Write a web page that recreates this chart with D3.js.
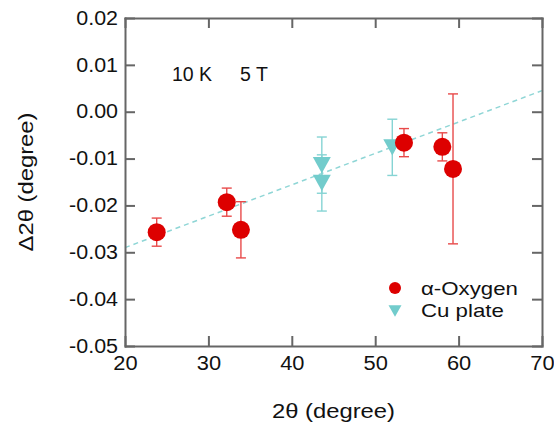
<!DOCTYPE html>
<html><head><meta charset="utf-8">
<script src="https://cdn.jsdelivr.net/npm/d3@7"></script>
<style>body{margin:0;background:#fff;} svg{display:block;font-family:"Liberation Sans",Arial,sans-serif;}</style>
</head><body>
<svg id="c" width="554" height="426"></svg>
<script>
const oxyX   = [23.8, 32.2, 33.9, 53.45, 58.05, 59.33];
const oxyY   = [-0.0257, -0.0193, -0.0252, -0.0066, -0.0075, -0.0122];
const oxyErr = [0.003, 0.003, 0.006, 0.003, 0.003, 0.016];
const cuX    = [43.6, 43.6, 52.05];
const cuY    = [-0.0114, -0.0152, -0.0076];
const cuErr  = [0.006, 0.006, 0.006];
const fitX   = [20, 70];
const fitY   = [-0.0290, 0.0045];
const xTicks = [20, 30, 40, 50, 60, 70];
const yTicks = [0.02, 0.01, 0.00, -0.01, -0.02, -0.03, -0.04, -0.05];
const legendLabels = ["α-Oxygen", "Cu plate"];

const svg = d3.select("#c");
const L = 125, R = 542, T = 18, B = 346;
const x = d3.scaleLinear().domain([20, 70]).range([L, R]);
const y = d3.scaleLinear().domain([-0.05, 0.02]).range([B, T]);
const red = "#dd0000", teal = "#72cccc", axisCol = "#666";

function stretch(sel, f) {
  sel.each(function () {
    const w = this.getComputedTextLength();
    d3.select(this).attr("textLength", w * f).attr("lengthAdjust", "spacingAndGlyphs");
  });
}

// fit line
svg.append("line")
  .attr("x1", x(fitX[0])).attr("y1", y(fitY[0]))
  .attr("x2", x(fitX[1])).attr("y2", y(fitY[1]))
  .attr("stroke", "#8fd6d6").attr("stroke-width", 1.5).attr("stroke-dasharray", "5,4");

function errBars(xs, ys, es, col) {
  const g = svg.append("g").attr("stroke", col).attr("stroke-width", 1.4).attr("fill", "none");
  xs.forEach((xv, i) => {
    const cx = x(xv), y1 = y(ys[i] + es[i]), y2 = y(ys[i] - es[i]);
    g.append("line").attr("x1", cx).attr("x2", cx).attr("y1", y1).attr("y2", y2);
    g.append("line").attr("x1", cx - 5).attr("x2", cx + 5).attr("y1", y1).attr("y2", y1);
    g.append("line").attr("x1", cx - 5).attr("x2", cx + 5).attr("y1", y2).attr("y2", y2);
  });
}
errBars(oxyX, oxyY, oxyErr, "#e84a4a");
errBars(cuX, cuY, cuErr, "#86d4d4");

const tri = (cx, cy, w) => {
  const h = w * 0.9;
  return `M${cx - w/2},${cy - h/2}L${cx + w/2},${cy - h/2}L${cx},${cy + h/2}Z`;
};
svg.append("g").selectAll("path").data(cuX).join("path")
  .attr("d", (d, i) => tri(x(d), y(cuY[i]), 18)).attr("fill", teal);
svg.append("g").selectAll("circle").data(oxyX).join("circle")
  .attr("cx", d => x(d)).attr("cy", (d, i) => y(oxyY[i])).attr("r", 9).attr("fill", red);

// axes
const fmt = d => d3.format(".2f")(d).replace("−", "-");
const ax = (g) => { g.select(".domain").attr("stroke", axisCol).attr("stroke-width", 2);
  g.selectAll(".tick line").attr("stroke", axisCol).attr("stroke-width", 2);
  g.selectAll("text").attr("fill", "#111").style("font-size", "19.5px"); };
svg.append("g").attr("transform", `translate(0,${B})`)
  .call(d3.axisBottom(x).tickValues(xTicks).tickSize(-10).tickPadding(6).tickSizeOuter(0))
  .call(ax).call(g => g.selectAll("text").attr("dy", "0.9em").call(stretch, 1.12));
svg.append("g").attr("transform", `translate(0,${T})`)
  .call(d3.axisTop(x).tickValues(xTicks).tickSize(-10).tickFormat("").tickSizeOuter(0)).call(ax);
svg.append("g").attr("transform", `translate(${L},0)`)
  .call(d3.axisLeft(y).tickValues(yTicks).tickSize(-10).tickPadding(7).tickFormat(fmt).tickSizeOuter(0))
  .call(ax).call(g => g.selectAll("text").call(stretch, 1.1));
svg.append("g").attr("transform", `translate(${R},0)`)
  .call(d3.axisRight(y).tickValues(yTicks).tickSize(-10).tickFormat("").tickSizeOuter(0)).call(ax);
svg.selectAll(".domain").attr("stroke-linecap", "square");

// annotations
svg.append("text").attr("x", 172).attr("y", 81).style("font-size", "19.5px").attr("fill", "#111").text("10 K");
svg.append("text").attr("x", 240).attr("y", 81).style("font-size", "19.5px").attr("fill", "#111").text("5 T");

// titles
svg.append("text").attr("x", (L + R) / 2).attr("y", 418).attr("text-anchor", "middle")
  .style("font-size", "19.5px").attr("fill", "#111").text("2θ (degree)").call(stretch, 1.22);
svg.append("text").attr("transform", `translate(33,${(T + B) / 2}) rotate(-90)`).attr("text-anchor", "middle")
  .style("font-size", "19.5px").attr("fill", "#111").text("Δ2θ (degree)").call(stretch, 1.22);

// legend
const lg = svg.append("g");
lg.append("circle").attr("cx", 395).attr("cy", 288).attr("r", 6).attr("fill", red);
lg.append("path").attr("d", tri(395, 311, 13)).attr("fill", teal);
lg.selectAll("text").data(legendLabels).join("text")
  .attr("x", 421).attr("y", (d, i) => 295 + i * 21.5).style("font-size", "19px").attr("fill", "#111").text(d => d)
  .call(stretch, 1.17);
</script>
</body></html>
